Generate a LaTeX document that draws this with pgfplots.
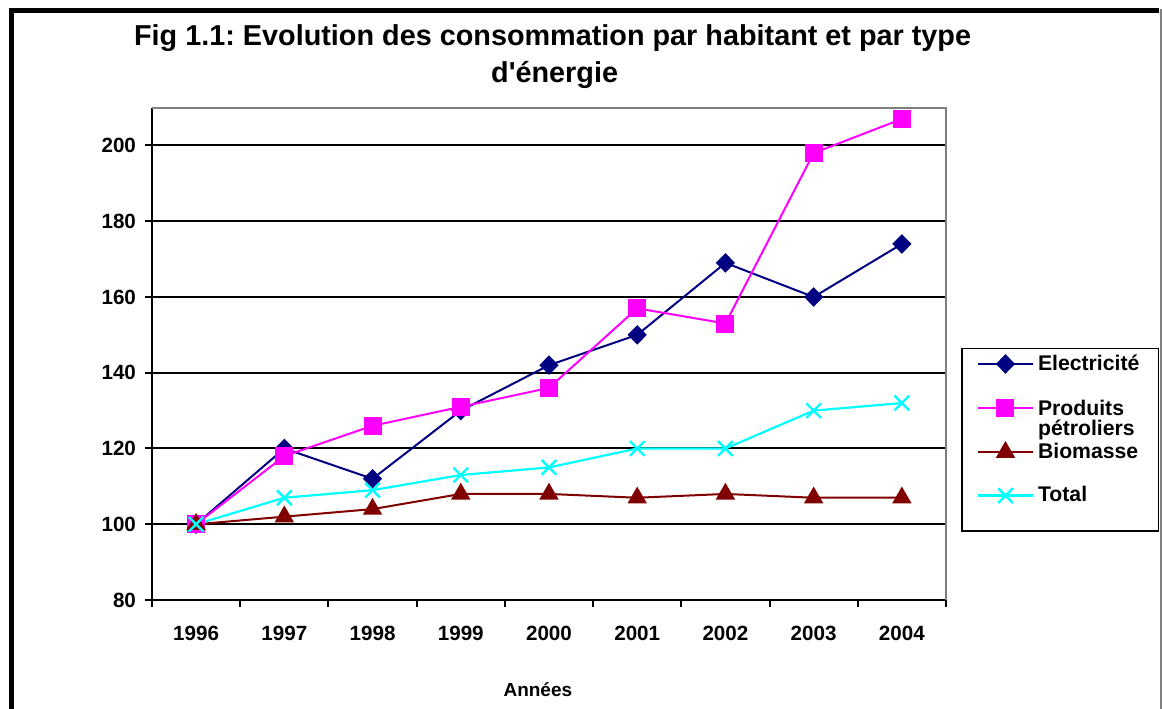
\documentclass[border=0pt]{standalone}
\usepackage{pgfplots}
\pgfplotsset{compat=1.18}
\usepackage{fontspec}
\setmainfont{Liberation Sans}
\definecolor{navyc}{RGB}{0,0,128}
\definecolor{magc}{RGB}{255,0,255}
\definecolor{brownc}{RGB}{128,0,0}
\definecolor{cyanc}{RGB}{0,255,255}
\definecolor{grayc}{RGB}{128,128,128}
\pgfplotstableread{
x elec petro bio total
0 100 100 100 100
1 120 118 102 107
2 112 126 104 109
3 130 131 108 113
4 142 136 108 115
5 150 157 107 120
6 169 153 108 120
7 160 198 107 130
8 174 207 107 132
}\datatable
\begin{document}
\frenchspacing
\begin{tikzpicture}
\begin{scope}
\clip (0,0) rectangle (581pt,354pt);
\draw[line width=2.5pt] (5.75pt,-5pt) -- (5.75pt,348.5pt) -- (579.5pt,348.5pt);
\draw[grayc, line width=0.8pt] (580.5pt,349.5pt) -- (580.5pt,-5pt);
\end{scope}
\node[font=\bfseries\fontsize{14.4}{17}\selectfont, anchor=base] at (276.3pt,331pt)
 {Fig 1.1: Evolution des consommation par habitant et par type};
\node[font=\bfseries\fontsize{14.4}{17}\selectfont, anchor=base] at (277.3pt,312.5pt)
 {d\textquotesingle énergie};
\begin{axis}[
 at={(76pt,54pt)}, anchor=south west, scale only axis,
 width=397pt, height=246.2pt,
 xmin=-0.5, xmax=8.5, ymin=80, ymax=210,
 xtick={-0.5,0.5,...,8.5},
 x tick label as interval,
 xticklabels={1996,1997,1998,1999,2000,2001,2002,2003,2004},
 ytick={80,100,...,200},
 axis x line*=bottom, axis y line*=left,
 axis line style={black, line width=1.2pt, -},
 tick align=outside, major tick length=3.5pt,
 tick style={black, line width=1pt},
 ymajorgrids, major grid style={black, line width=1pt},
 ticklabel style={font=\bfseries\fontsize{10.3}{12}\selectfont},
 /pgf/number format/assume math mode=true,
 xticklabel style={yshift=-6pt},
 yticklabel style={xshift=-1pt},
 xlabel={Années},
 xlabel style={font=\bfseries\fontsize{9.5}{11}\selectfont, at={(axis description cs:0.486,-0.183)}, anchor=center},
 legend style={at={(1.019,0.512)}, anchor=north west, draw=black, line width=0.8pt,
   font=\bfseries\fontsize{10.6}{12}\selectfont, row sep=8.5pt, inner xsep=7.5pt, inner ysep=1pt},
 legend cell align=left,
 legend image code/.code={\draw[mark repeat=2,mark phase=2] plot coordinates {(0pt,0pt) (13.75pt,0pt) (27.5pt,0pt)};},
 extra description/.code={\draw[grayc, line width=1pt] (rel axis cs:0,1) -- (rel axis cs:1,1) -- (rel axis cs:1,0);},
 clip=false,
]
\addplot[navyc, line width=1pt, mark=diamond*, mark size=4.2pt, mark options={solid, fill=navyc, xscale=1.3}] table[x=x,y=elec] {\datatable};
\addlegendentry{Electricité}
\addplot[magc, line width=1pt, mark=square*, mark size=4pt, mark options={solid, fill=magc}] table[x=x,y=petro] {\datatable};
\addlegendentry{\raisebox{0pt}[\height][0pt]{\begin{tabular}[t]{@{}l@{}}Produits\\[-2pt]pétroliers\end{tabular}}}
\addplot[brownc, line width=1pt, mark=triangle*, mark size=4.6pt, mark options={solid, fill=brownc}] table[x=x,y=bio] {\datatable};
\addlegendentry{Biomasse}
\addplot[cyanc, line width=1.1pt, mark=x, mark size=5.2pt, mark options={solid, line width=1.2pt}] table[x=x,y=total] {\datatable};
\addlegendentry{Total}
\addlegendimage{empty legend}
\addlegendentry[inner sep=0pt]{}
\end{axis}
\pgfresetboundingbox
\useasboundingbox (0,0) rectangle (581pt,354pt);
\end{tikzpicture}
\end{document}
